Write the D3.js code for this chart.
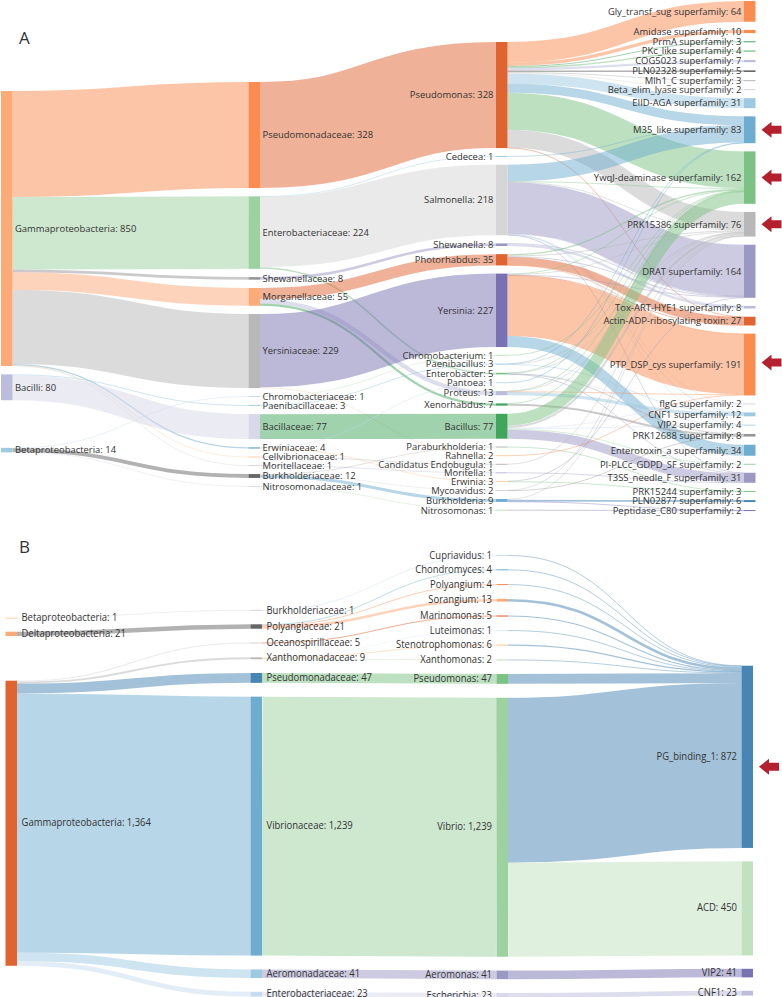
<!DOCTYPE html>
<html><head><meta charset="utf-8">
<script src="https://cdn.jsdelivr.net/npm/d3@7/dist/d3.min.js"></script>
<style>
html,body{margin:0;padding:0;background:#fff;}
svg{display:block;}
text{font-family:"Open Sans","Noto Sans",sans-serif;fill:#333;}
</style></head><body>
<svg id="chart" width="782" height="997"></svg>
<script>
// ---------- Colour swatches ----------
const RED="#e0642f",ORA="#fa8c50",APR="#fbaa78",PEA="#fdd0a8";
const BLU="#4785b5",SKY="#6fadd0",ICE="#9ecae1",PAL="#c6dbef",MIST="#deebf7";
const GRN="#41a55c",LEAF="#7cc284",MINT="#9cd1a0",PALG="#c1e2bf";
const PUR="#7872b2",LAV="#9b98c4",LIL="#bcbddc",PALP="#d8d8ea";
const DRK="#666666",GRY="#969696",SLV="#b8b8b8",LGT="#d6d6d6";

// ---------- Panel A data ----------
const phylumA = ["Gammaproteobacteria","Bacilli","Betaproteobacteria"];
const phylumValuesA = [850,80,14];
const phylumColoursA = [APR,LIL,ICE];

const familyA = ["Pseudomonadaceae","Enterobacteriaceae","Shewanellaceae","Morganellaceae","Yersiniaceae","Chromobacteriaceae","Paenibacillaceae","Bacillaceae","Erwiniaceae","Cellvibrionaceae","Moritellaceae","Burkholderiaceae","Nitrosomonadaceae"];
const familyValuesA = [328,224,8,55,229,1,3,77,4,1,1,12,1];
const familyColoursA = [ORA,MINT,GRY,APR,SLV,PAL,ICE,PALP,SKY,PEA,LGT,DRK,PALP];

const genusA = ["Pseudomonas","Cedecea","Salmonella","Shewanella","Photorhabdus","Yersinia","Chromobacterium","Paenibacillus","Enterobacter","Pantoea","Proteus","Xenorhabdus","Bacillus","Paraburkholderia","Rahnella","Candidatus Endobugula","Moritella","Erwinia","Mycoavidus","Burkholderia","Nitrosomonas"];
const genusValuesA = [328,1,218,8,35,227,1,3,5,1,13,7,77,1,2,1,1,3,2,9,1];
const genusColoursA = [RED,ICE,LGT,LAV,RED,PUR,PALG,ICE,LEAF,PAL,LIL,GRN,GRN,SLV,PEA,SLV,LIL,PEA,LGT,SKY,PALG];

const domainA = ["Gly_transf_sug superfamily","Amidase superfamily","PrmA superfamily","PKc_like superfamily","COG5023 superfamily","PLN02328 superfamily","Mlh1_C superfamily","Beta_elim_lyase superfamily","EIID-AGA superfamily","M35_like superfamily","YwqJ-deaminase superfamily","PRK15386 superfamily","DRAT superfamily","Tox-ART-HYE1 superfamily","Actin-ADP-ribosylating toxin","PTP_DSP_cys superfamily","flgG superfamily","CNF1 superfamily","VIP2 superfamily","PRK12688 superfamily","Enterotoxin_a superfamily","PI-PLCc_GDPD_SF superfamily","T3SS_needle_F superfamily","PRK15244 superfamily","PLN02877 superfamily","Peptidase_C80 superfamily"];
const domainValuesA = [64,10,3,4,7,5,3,2,31,83,162,76,164,8,27,191,2,12,4,8,34,2,31,3,6,2];
const domainColoursA = [ORA,ORA,GRN,LEAF,LIL,DRK,SLV,LGT,ICE,SKY,LEAF,SLV,LAV,LIL,RED,ORA,PALP,ICE,PAL,GRY,SKY,MINT,LAV,LEAF,BLU,PUR];

const linksA1 = [
 ["Gammaproteobacteria","Pseudomonadaceae",328],["Gammaproteobacteria","Enterobacteriaceae",224],["Gammaproteobacteria","Shewanellaceae",8],["Gammaproteobacteria","Morganellaceae",55],["Gammaproteobacteria","Yersiniaceae",229],["Gammaproteobacteria","Erwiniaceae",4],["Gammaproteobacteria","Cellvibrionaceae",1],["Gammaproteobacteria","Moritellaceae",1],
 ["Bacilli","Paenibacillaceae",3],["Bacilli","Bacillaceae",77],
 ["Betaproteobacteria","Chromobacteriaceae",1],["Betaproteobacteria","Burkholderiaceae",12],["Betaproteobacteria","Nitrosomonadaceae",1]];
const linksA2 = [
 ["Pseudomonadaceae","Pseudomonas",328],["Enterobacteriaceae","Cedecea",1],["Enterobacteriaceae","Salmonella",218],["Enterobacteriaceae","Enterobacter",5],["Shewanellaceae","Shewanella",8],
 ["Morganellaceae","Photorhabdus",35],["Morganellaceae","Proteus",13],["Morganellaceae","Xenorhabdus",7],["Yersiniaceae","Yersinia",227],["Yersiniaceae","Rahnella",2],
 ["Chromobacteriaceae","Chromobacterium",1],["Paenibacillaceae","Paenibacillus",3],["Bacillaceae","Bacillus",77],["Erwiniaceae","Pantoea",1],["Erwiniaceae","Erwinia",3],
 ["Cellvibrionaceae","Candidatus Endobugula",1],["Moritellaceae","Moritella",1],["Burkholderiaceae","Paraburkholderia",1],["Burkholderiaceae","Mycoavidus",2],["Burkholderiaceae","Burkholderia",9],["Nitrosomonadaceae","Nitrosomonas",1]];
const linksA3 = [
 ["Pseudomonas","Gly_transf_sug superfamily",64],["Pseudomonas","Amidase superfamily",10],["Pseudomonas","PrmA superfamily",3],["Pseudomonas","PKc_like superfamily",4],["Pseudomonas","COG5023 superfamily",7],["Pseudomonas","PLN02328 superfamily",5],["Pseudomonas","Mlh1_C superfamily",3],["Pseudomonas","Beta_elim_lyase superfamily",2],["Pseudomonas","EIID-AGA superfamily",31],["Pseudomonas","M35_like superfamily",28],["Pseudomonas","YwqJ-deaminase superfamily",114],["Pseudomonas","PRK15386 superfamily",56],["Pseudomonas","Actin-ADP-ribosylating toxin",1],
 ["Cedecea","M35_like superfamily",1],
 ["Salmonella","M35_like superfamily",52],["Salmonella","YwqJ-deaminase superfamily",1],["Salmonella","PRK15386 superfamily",1],["Salmonella","DRAT superfamily",159],["Salmonella","Tox-ART-HYE1 superfamily",1],["Salmonella","flgG superfamily",1],["Salmonella","CNF1 superfamily",1],["Salmonella","VIP2 superfamily",1],["Salmonella","T3SS_needle_F superfamily",1],
 ["Shewanella","DRAT superfamily",1],["Shewanella","Tox-ART-HYE1 superfamily",7],
 ["Photorhabdus","YwqJ-deaminase superfamily",4],["Photorhabdus","PRK15386 superfamily",3],["Photorhabdus","DRAT superfamily",2],["Photorhabdus","Actin-ADP-ribosylating toxin",25],["Photorhabdus","PTP_DSP_cys superfamily",1],
 ["Yersinia","YwqJ-deaminase superfamily",2],["Yersinia","PRK15386 superfamily",2],["Yersinia","DRAT superfamily",1],["Yersinia","Actin-ADP-ribosylating toxin",1],["Yersinia","PTP_DSP_cys superfamily",187],["Yersinia","Enterotoxin_a superfamily",34],
 ["Chromobacterium","YwqJ-deaminase superfamily",1],
 ["Paenibacillus","M35_like superfamily",1],["Paenibacillus","PRK15386 superfamily",1],["Paenibacillus","CNF1 superfamily",1],
 ["Enterobacter","YwqJ-deaminase superfamily",1],["Enterobacter","PRK15386 superfamily",1],["Enterobacter","VIP2 superfamily",1],["Enterobacter","PRK12688 superfamily",1],["Enterobacter","T3SS_needle_F superfamily",1],
 ["Pantoea","M35_like superfamily",1],
 ["Proteus","YwqJ-deaminase superfamily",1],["Proteus","PRK15386 superfamily",1],["Proteus","PTP_DSP_cys superfamily",1],["Proteus","CNF1 superfamily",10],
 ["Xenorhabdus","YwqJ-deaminase superfamily",1],["Xenorhabdus","PRK12688 superfamily",6],
 ["Bacillus","YwqJ-deaminase superfamily",37],["Bacillus","PRK15386 superfamily",7],["Bacillus","flgG superfamily",1],["Bacillus","VIP2 superfamily",2],["Bacillus","PI-PLCc_GDPD_SF superfamily",2],["Bacillus","T3SS_needle_F superfamily",28],
 ["Paraburkholderia","PRK15244 superfamily",1],["Rahnella","PTP_DSP_cys superfamily",2],["Candidatus Endobugula","PRK15386 superfamily",1],["Moritella","T3SS_needle_F superfamily",1],
 ["Erwinia","DRAT superfamily",1],["Erwinia","PRK15244 superfamily",2],
 ["Mycoavidus","PRK15386 superfamily",1],["Mycoavidus","PRK12688 superfamily",1],
 ["Burkholderia","PRK15386 superfamily",2],["Burkholderia","PLN02877 superfamily",6],["Burkholderia","Peptidase_C80 superfamily",1],
 ["Nitrosomonas","Peptidase_C80 superfamily",1]];
const arrowsA = [["M35_like superfamily",0],["YwqJ-deaminase superfamily",0],["PRK15386 superfamily",0],["PTP_DSP_cys superfamily",-2]];

// ---------- Panel B data ----------
const phylumB = ["Betaproteobacteria","Deltaproteobacteria","Gammaproteobacteria"];
const phylumValuesB = [1,21,1364];
const phylumColoursB = [PEA,APR,RED];

const familyB = ["Burkholderiaceae","Polyangiaceae","Oceanospirillaceae","Xanthomonadaceae","Pseudomonadaceae","Vibrionaceae","Aeromonadaceae","Enterobacteriaceae"];
const familyValuesB = [1,21,5,9,47,1239,41,23];
const familyColoursB = [LGT,DRK,LGT,SLV,BLU,SKY,ICE,PAL];

const genusB = ["Cupriavidus","Chondromyces","Polyangium","Sorangium","Marinomonas","Luteimonas","Stenotrophomonas","Xanthomonas","Pseudomonas","Vibrio","Aeromonas","Escherichia"];
const genusValuesB = [1,4,4,13,5,1,6,2,47,1239,41,23];
const genusColoursB = [PAL,SKY,ORA,APR,RED,MIST,PEA,PALG,LEAF,MINT,LAV,PALP];

const domainB = ["PG_binding_1","ACD","VIP2","CNF1"];
const domainValuesB = [872,450,41,23];
const domainColoursB = [BLU,PALG,PUR,LIL];

const linksB1 = [["Betaproteobacteria","Burkholderiaceae",1],["Deltaproteobacteria","Polyangiaceae",21],["Gammaproteobacteria","Oceanospirillaceae",5],["Gammaproteobacteria","Xanthomonadaceae",9],["Gammaproteobacteria","Pseudomonadaceae",47],["Gammaproteobacteria","Vibrionaceae",1239],["Gammaproteobacteria","Aeromonadaceae",41],["Gammaproteobacteria","Enterobacteriaceae",23]];
const linksB2 = [["Burkholderiaceae","Cupriavidus",1],["Polyangiaceae","Chondromyces",4],["Polyangiaceae","Polyangium",4],["Polyangiaceae","Sorangium",13],["Oceanospirillaceae","Marinomonas",5],["Xanthomonadaceae","Luteimonas",1],["Xanthomonadaceae","Stenotrophomonas",6],["Xanthomonadaceae","Xanthomonas",2],["Pseudomonadaceae","Pseudomonas",47],["Vibrionaceae","Vibrio",1239],["Aeromonadaceae","Aeromonas",41],["Enterobacteriaceae","Escherichia",23]];
const linksB3 = [["Cupriavidus","PG_binding_1",1],["Chondromyces","PG_binding_1",4],["Polyangium","PG_binding_1",4],["Sorangium","PG_binding_1",13],["Marinomonas","PG_binding_1",5],["Luteimonas","PG_binding_1",1],["Stenotrophomonas","PG_binding_1",6],["Xanthomonas","PG_binding_1",2],["Pseudomonas","PG_binding_1",47],["Vibrio","PG_binding_1",789],["Vibrio","ACD",450],["Aeromonas","VIP2",41],["Escherichia","CNF1",23]];
const arrowsB = [["PG_binding_1",10]];

// ---------- Layout settings ----------
const panelA = {
  title:"A", titleX:19, titleY:44,
  names:[phylumA,familyA,genusA,domainA],
  values:[phylumValuesA,familyValuesA,genusValuesA,domainValuesA],
  colours:[phylumColoursA,familyColoursA,genusColoursA,domainColoursA],
  links:[...linksA1,...linksA2,...linksA3], arrows:arrowsA,
  unit:0.3235, xs:[1,248.5,496,744], nodeW:11.5,
  starts:[91,82,42,1], gaps:[[8.4,47.6],8.26,8.15,8.18],
  labelOffset:2.5, fontSize:9.45, stretch:1, baseline:"0.35em"
};
const panelB = {
  title:"B", titleX:19, titleY:553,
  names:[phylumB,familyB,genusB,domainB],
  values:[phylumValuesB,familyValuesB,genusValuesB,domainValuesB],
  colours:[phylumColoursB,familyColoursB,genusColoursB,domainColoursB],
  links:[...linksB1,...linksB2,...linksB3], arrows:arrowsB,
  unit:0.209, xs:[5.5,250.5,496.5,741.5], nodeW:11.5,
  starts:[618,610.3,555.3,665.7], gaps:[[13.5,44.6],13.8,13.9,13.4],
  labelOffset:4.5, fontSize:10.4, stretch:0.91, baseline:"0.3em"
};

const svg = d3.select("#chart");
const linkPath = d3.linkHorizontal().x(d=>d[0]).y(d=>d[1]);

function draw(p){
  const g = svg.append("g");
  const h = d3.scaleLinear().domain([0,1]).range([0,p.unit]);
  const nodes = new Map();
  p.names.forEach((col,c)=>{
    let y = p.starts[c];
    col.forEach((name,i)=>{
      const gap = Array.isArray(p.gaps[c]) ? p.gaps[c][i] : p.gaps[c];
      const n = {name,col:c,value:p.values[c][i],colour:p.colours[c][i],y0:y,y1:y+h(p.values[c][i]),out:[],inc:[]};
      n.x0 = p.xs[c]; n.x1 = n.x0 + p.nodeW;
      nodes.set(name,n);
      y = n.y1 + gap;
    });
  });
  const links = p.links.map(([s,t,v])=>({source:nodes.get(s),target:nodes.get(t),value:v}));
  links.forEach(l=>{l.source.out.push(l);l.target.inc.push(l);});
  nodes.forEach(n=>{
    n.out.sort((a,b)=>a.target.y0-b.target.y0);
    n.inc.sort((a,b)=>a.source.y0-b.source.y0);
    let a=n.y0; n.out.forEach(l=>{l.w=h(l.value);l.sy=a+l.w/2;a+=l.w;});
    let b=n.y0; n.inc.forEach(l=>{l.ty=b+h(l.value)/2;b+=h(l.value);});
  });
  g.append("g").attr("fill","none").selectAll("path").data(links).join("path")
    .attr("d",l=>linkPath({source:[l.source.x1,l.sy],target:[l.target.x0,l.ty]}))
    .attr("stroke",l=>l.target.colour)
    .attr("stroke-opacity",0.5)
    .attr("stroke-width",l=>Math.max(0.8,l.w));
  const nodeData = Array.from(nodes.values());
  g.append("g").selectAll("rect").data(nodeData).join("rect")
    .attr("x",n=>n.x0).attr("width",p.nodeW)
    .attr("y",n=>(n.y1-n.y0)<1?(n.y0+n.y1)/2-0.5:n.y0)
    .attr("height",n=>Math.max(1,n.y1-n.y0))
    .attr("fill",n=>n.colour);
  const fmt = d3.format(",");
  g.append("g").selectAll("text").data(nodeData).join("text")
    .attr("transform",n=>`translate(${n.col<2?n.x0+p.nodeW+p.labelOffset:n.x0-p.labelOffset},${(n.y0+n.y1)/2}) scale(${p.stretch},1)`)
    .attr("dy",p.baseline)
    .attr("text-anchor",n=>n.col<2?"start":"end")
    .attr("font-size",p.fontSize)
    .text(n=>`${n.name}: ${fmt(n.value)}`);
  g.append("text").attr("x",p.titleX).attr("y",p.titleY).attr("font-size",17).text(p.title);
  const arrowPts = [[0,0],[10,-8],[10,-4],[20,-4],[20,4],[10,4],[10,8]];
  g.append("g").selectAll("path").data(p.arrows).join("path")
    .attr("d",d3.line()(arrowPts)+"Z")
    .attr("fill","#b5202e")
    .attr("transform",([name,dy])=>{const n=nodes.get(name);return `translate(${n.x0+p.nodeW+6},${(n.y0+n.y1)/2+dy})`;});
}
draw(panelA);
draw(panelB);
</script>
</body></html>
